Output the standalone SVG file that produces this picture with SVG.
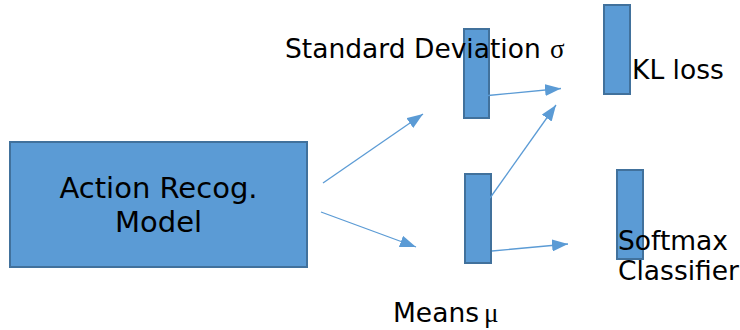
<svg xmlns="http://www.w3.org/2000/svg" width="740" height="330" viewBox="0 0 740 330">
  <style>
    .block { fill: #5b9bd5; stroke: #41719c; stroke-width: 2; }
    .label { font-family: "DejaVu Sans", sans-serif; font-size: 26.5px; fill: #000; }
    .greek { font-family: "Liberation Serif", serif; font-size: 27px; fill: #000; }
    .edge { stroke: #5b9bd5; stroke-width: 1.3; fill: none; marker-end: url(#head); }
  </style>
  <defs>
    <marker id="head" markerUnits="userSpaceOnUse" markerWidth="16" markerHeight="12" refX="16" refY="6" orient="auto">
      <path d="M0,0 L16,6 L0,12 Z" fill="#5b9bd5"/>
    </marker>
  </defs>

  <g id="model">
    <rect class="block" x="10" y="142" width="297" height="125"/>
    <text class="label" x="158.5" y="198" text-anchor="middle" style="font-size:29px">Action Recog.</text>
    <text class="label" x="158.5" y="232" text-anchor="middle" style="font-size:29px">Model</text>
  </g>

  <g id="sigma">
    <rect class="block" x="464" y="29" width="25" height="89"/>
    <text class="label" x="285" y="58">Standard Deviation</text>
    <text class="greek" x="550" y="58">σ</text>
  </g>

  <g id="mu">
    <rect class="block" x="465" y="174" width="26" height="89"/>
    <text class="label" x="393" y="322">Means</text>
    <text class="greek" x="484" y="322">μ</text>
  </g>

  <g id="kl-loss">
    <rect class="block" x="604" y="5" width="26" height="89"/>
    <text class="label" x="632" y="79">KL loss</text>
  </g>

  <g id="softmax">
    <rect class="block" x="617" y="170" width="26" height="89"/>
    <text class="label" x="618" y="250">Softmax</text>
    <text class="label" x="618" y="280">Classifier</text>
  </g>

  <g id="connectors">
    <line class="edge" x1="323" y1="183" x2="423" y2="114"/>
    <line class="edge" x1="321" y1="212" x2="416" y2="247"/>
    <line class="edge" x1="488" y1="95.5" x2="561" y2="88.5"/>
    <line class="edge" x1="490" y1="198" x2="556" y2="105"/>
    <line class="edge" x1="492" y1="251" x2="568" y2="244"/>
  </g>
</svg>
